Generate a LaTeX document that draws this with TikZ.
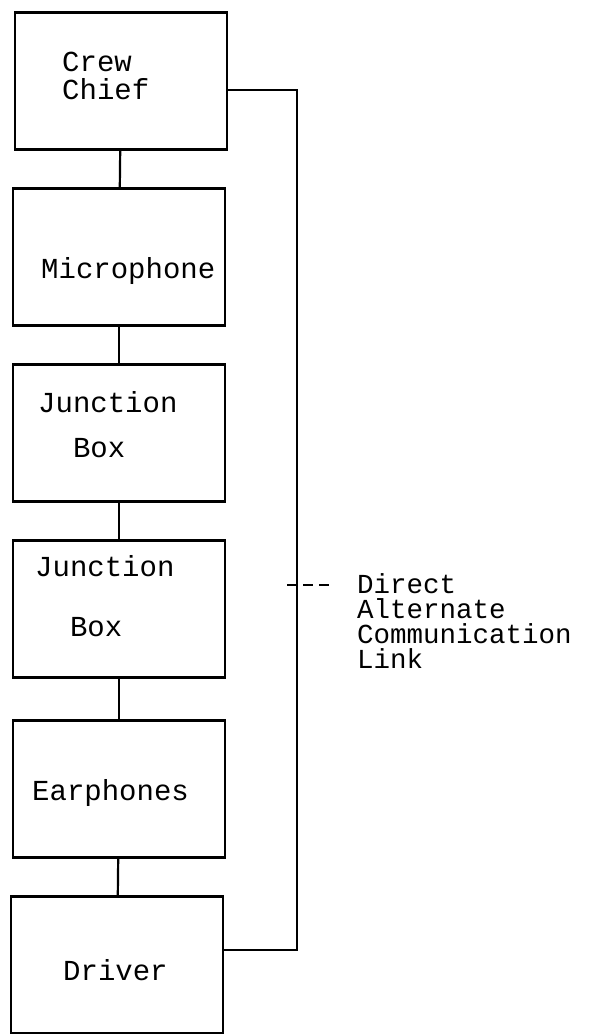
\documentclass[tikz,border=0pt]{standalone}
\usepackage{fontspec}
\setmonofont{Liberation Mono}

\tikzset{
    unit/.style={draw, line width=2.2pt, minimum width=212pt, minimum height=137pt, inner sep=0pt},
    txt/.style={font=\ttfamily\fontsize{29}{28}\selectfont, align=left, inner sep=0pt, anchor=west},
    link/.style={line width=2.2pt}
}

\begin{document}
\begin{tikzpicture}[x=1pt, y=-1pt]
    \useasboundingbox (0,0) rectangle (592,1034);
    % The chain of units, top to bottom
    \node[unit] (crew) at (121,81) {};
    \node[unit] (mic) at (119,257) {};
    \node[unit] (jbox1) at (119,433) {};
    \node[unit] (jbox2) at (119,609) {};
    \node[unit] (ear) at (119,789) {};
    \node[unit] (drv) at (117,965) {};
    % Their names
    \node[txt] (crewtxt) at (62,76) {Crew\\Chief};
    \node[txt] (mictxt) at (41,271) {Microphone};
    \node[txt] (jbox1txt) at (38,425) {Junction\\[17pt]\phantom{Ju}Box};
    \node[txt] (jbox2txt) at (35,596) {Junction\\[32pt]\phantom{Ju}Box};
    \node[txt] (eartxt) at (32,793) {Earphones};
    \node[txt] (drvtxt) at (63,970) {Driver};
    % Wires between the units
    \draw[link] (crew) -- (mic);
    \draw[link] (mic) -- (jbox1);
    \draw[link] (jbox1) -- (jbox2);
    \draw[link] (jbox2) -- (ear);
    \draw[link] (ear) -- (drv);
    % Direct alternate link down the right side
    \coordinate (side) at (297,500);
    \draw[link] ([yshift=-9pt]crew.east) -| (side) |- ([yshift=15pt]drv.east);
    \draw[link, dash pattern=on 10pt off 6pt] (287,585) -- (333,585);
    \node[txt, font=\ttfamily\fontsize{27.5}{25}\selectfont] (linktxt) at (357,621) {Direct\\Alternate\\Communication\\Link};
\end{tikzpicture}
\end{document}
